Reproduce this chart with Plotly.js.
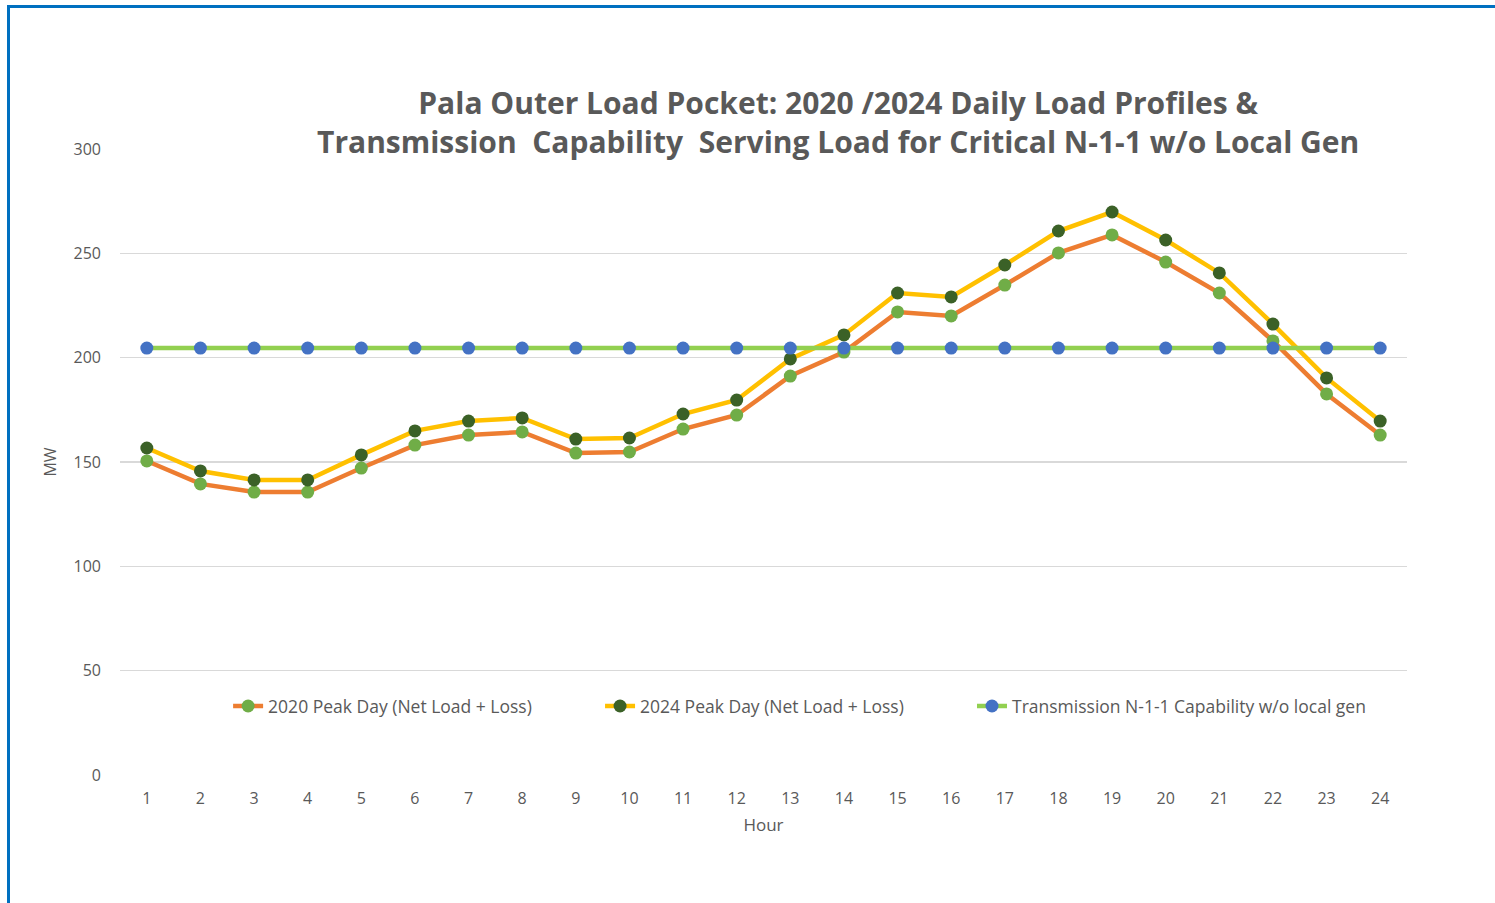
<!DOCTYPE html>
<html>
<head>
<meta charset="utf-8">
<script src="https://cdn.plot.ly/plotly-3.0.1.min.js"></script>
<style>
  html, body { margin: 0; padding: 0; background: #ffffff; overflow: hidden; }
  #chart { width: 1495px; height: 903px; }
  #frame { position: absolute; left: 7px; top: 5px; width: 1600px; height: 1000px;
           border-left: 3px solid #0070C0; border-top: 3px solid #0070C0; pointer-events: none; }
</style>
</head>
<body>
<div id="chart"></div>
<div id="frame"></div>
<script>
const hours = [1,2,3,4,5,6,7,8,9,10,11,12,13,14,15,16,17,18,19,20,21,22,23,24];
const hourLabels = hours.map(String);
const load2020 = [150.5,139.5,135.6,135.6,147.1,158.1,162.9,164.4,154.3,154.8,165.8,172.5,191.2,202.7,221.9,220.0,234.8,250.2,258.8,245.8,231.0,208.0,182.6,162.9];
const load2024 = [156.7,145.7,141.4,141.4,153.4,164.9,169.6,171.1,161.0,161.5,173.0,179.7,199.4,210.9,231.0,229.1,244.4,260.7,269.8,256.4,240.6,216.1,190.3,169.6];
const transCap = [204.6,204.6,204.6,204.6,204.6,204.6,204.6,204.6,204.6,204.6,204.6,204.6,204.6,204.6,204.6,204.6,204.6,204.6,204.6,204.6,204.6,204.6,204.6,204.6];
const seriesNames = ["2020 Peak Day (Net Load + Loss)", "2024 Peak Day (Net Load + Loss)", "Transmission N-1-1 Capability w/o local gen"];
const yTicks = [0,50,100,150,200,250,300];

const FONT = "'Open Sans', sans-serif";
const GRAY = "#595959";

const traces = [
  {x: hours, y: load2020, name: seriesNames[0], type: "scatter", mode: "lines+markers", legend: "legend",
   line: {color: "#ED7D31", width: 4.5}, marker: {color: "#70AD47", size: 13}},
  {x: hours, y: load2024, name: seriesNames[1], type: "scatter", mode: "lines+markers", legend: "legend2",
   line: {color: "#FFC000", width: 4.5}, marker: {color: "#3B6127", size: 13}},
  {x: hours, y: transCap, name: seriesNames[2], type: "scatter", mode: "lines+markers", legend: "legend3",
   line: {color: "#92D050", width: 4.5}, marker: {color: "#4472C4", size: 13}}
];

function legendAt(xpos) {
  return {
    orientation: "h", x: xpos, xanchor: "left", y: 0.110, yanchor: "middle",
    font: {family: FONT, size: 17.5, color: GRAY}, bgcolor: "rgba(0,0,0,0)"
  };
}

const layout = {
  width: 1495, height: 903,
  margin: {l: 120, r: 88, t: 149, b: 128},
  paper_bgcolor: "#ffffff", plot_bgcolor: "#ffffff",
  font: {family: FONT, color: GRAY, size: 15},
  title: {
    text: "<b>Pala Outer Load Pocket: 2020 /2024 Daily Load Profiles &<br>Transmission  Capability  Serving Load for Critical N-1-1 w/o Local Gen</b>",
    font: {family: FONT, size: 30, color: GRAY},
    xref: "paper", x: 0.558, xanchor: "center",
    yref: "container", y: 0.874, yanchor: "middle"
  },
  xaxis: {
    range: [0.5, 24.5], tickmode: "array", tickvals: hours, ticktext: hourLabels,
    showgrid: false, zeroline: false, showline: false, ticks: "",
    tickfont: {family: FONT, size: 16, color: GRAY}, ticklabelstandoff: 12,
    title: {text: "Hour", font: {family: FONT, size: 17, color: GRAY}, standoff: 11}
  },
  yaxis: {
    range: [0, 300], tickmode: "array", tickvals: yTicks,
    showgrid: true, gridcolor: "#D9D9D9", gridwidth: 1.5, zeroline: false, showline: false, ticks: "",
    tickfont: {family: FONT, size: 16, color: GRAY}, ticklabelstandoff: 18,
    title: {text: "MW", font: {family: FONT, size: 16, color: GRAY}, standoff: 12}
  },
  legend: legendAt(0.084),
  legend2: legendAt(0.373),
  legend3: legendAt(0.662),
  showlegend: true
};

Plotly.newPlot("chart", traces, layout, {displayModeBar: false, staticPlot: true});
</script>
</body>
</html>
